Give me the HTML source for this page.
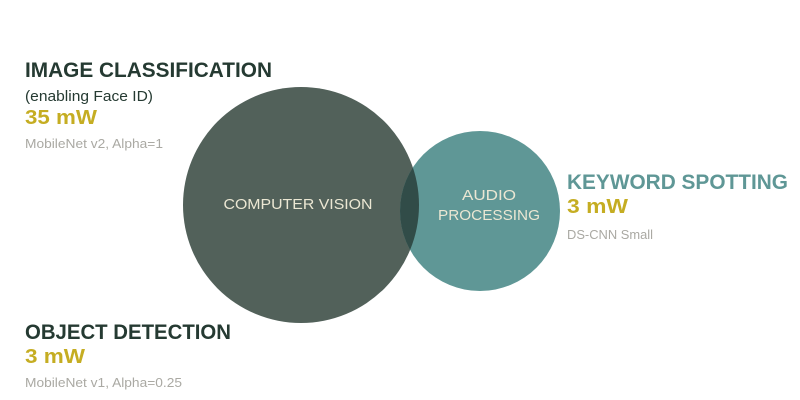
<!DOCTYPE html>
<html><head><meta charset="utf-8"><style>
html,body{margin:0;padding:0;background:#fff;}
svg{display:block;font-family:"Liberation Sans",sans-serif;}
</style></head><body>
<svg width="800" height="400" viewBox="0 0 800 400">
<defs><clipPath id="c1"><circle cx="301" cy="205" r="118"/></clipPath></defs>
<circle cx="301" cy="205" r="118" fill="#52615a"/>
<circle cx="480" cy="211" r="80" fill="#5f9796"/>
<circle cx="480" cy="211" r="80" fill="#314c48" clip-path="url(#c1)"/>
<text x="298" y="209" text-anchor="middle" font-size="15" fill="#ebe7d3" textLength="149" lengthAdjust="spacingAndGlyphs">COMPUTER VISION</text>
<text x="489" y="200" text-anchor="middle" font-size="15" fill="#ebe7d3" textLength="54" lengthAdjust="spacingAndGlyphs">AUDIO</text>
<text x="489" y="220" text-anchor="middle" font-size="15" fill="#ebe7d3" textLength="102" lengthAdjust="spacingAndGlyphs">PROCESSING</text>

<text x="25" y="77" font-size="21" font-weight="bold" fill="#253a32" textLength="247" lengthAdjust="spacingAndGlyphs">IMAGE CLASSIFICATION</text>
<text x="25" y="101" font-size="15" fill="#253a32" textLength="128" lengthAdjust="spacingAndGlyphs">(enabling Face ID)</text>
<text x="25" y="124" font-size="20" font-weight="bold" fill="#c5ad22" textLength="72" lengthAdjust="spacingAndGlyphs">35 mW</text>
<text x="25" y="148" font-size="13" fill="#aaa9a3" textLength="138" lengthAdjust="spacingAndGlyphs">MobileNet v2, Alpha=1</text>

<text x="567" y="189" font-size="21" font-weight="bold" fill="#5f9796" textLength="221" lengthAdjust="spacingAndGlyphs">KEYWORD SPOTTING</text>
<text x="567" y="213" font-size="20" font-weight="bold" fill="#c5ad22" textLength="61" lengthAdjust="spacingAndGlyphs">3 mW</text>
<text x="567" y="239" font-size="13" fill="#aaa9a3" textLength="86" lengthAdjust="spacingAndGlyphs">DS-CNN Small</text>

<text x="25" y="339" font-size="21" font-weight="bold" fill="#253a32" textLength="206" lengthAdjust="spacingAndGlyphs">OBJECT DETECTION</text>
<text x="25" y="363" font-size="20" font-weight="bold" fill="#c5ad22" textLength="60" lengthAdjust="spacingAndGlyphs">3 mW</text>
<text x="25" y="387" font-size="13" fill="#aaa9a3" textLength="157" lengthAdjust="spacingAndGlyphs">MobileNet v1, Alpha=0.25</text>
</svg>
</body></html>
